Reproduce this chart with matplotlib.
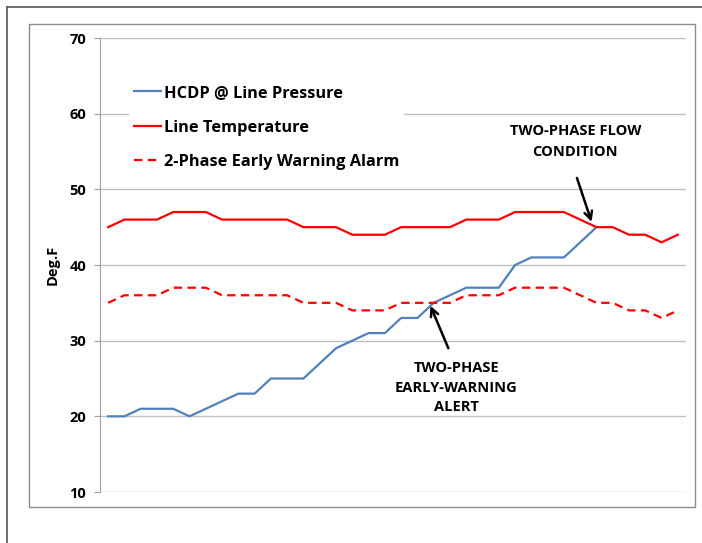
import numpy as np
import matplotlib
matplotlib.use("Agg")
import matplotlib.pyplot as plt
from matplotlib.lines import Line2D
from matplotlib.patches import Rectangle

plt.rcParams['font.family'] = ['Open Sans', 'DejaVu Sans']
plt.rcParams['font.weight'] = 'bold'

# data
hcdp = [20, 20, 21, 21, 21, 20, 21, 22, 23, 23, 25, 25, 25, 27, 29, 30, 31, 31,
        33, 33, 35, 36, 37, 37, 37, 40, 41, 41, 41, 43, 45]
line_temp = [45, 46, 46, 46, 47, 47, 47, 46, 46, 46, 46, 46, 45, 45, 45, 44, 44, 44,
             45, 45, 45, 45, 46, 46, 46, 47, 47, 47, 47, 46, 45, 45, 44, 44, 43, 44]
alarm = [35, 36, 36, 36, 37, 37, 37, 36, 36, 36, 36, 36, 35, 35, 35, 34, 34, 34,
         35, 35, 35, 35, 36, 36, 36, 37, 37, 37, 37, 36, 35, 35, 34, 34, 33, 34]
yticks = [10, 20, 30, 40, 50, 60, 70]

fig = plt.figure(figsize=(7.02, 5.43), dpi=100)

# outer frame lines and chart box
fig.add_artist(Line2D([7/702, 7/702], [0, 1 - 7/543], color='#555555', lw=1.2))
fig.add_artist(Line2D([7/702, 1], [1 - 7/543, 1 - 7/543], color='#555555', lw=1.2))
fig.add_artist(Rectangle((29/702, 1 - 507/543), (695 - 29)/702, (507 - 24)/543,
                         fill=False, edgecolor='#8c8c8c', lw=1.0))

ax = fig.add_axes([100/702, 1 - 492/543, 586/702, 454/543])

x_all = np.arange(len(line_temp))
x_h = np.arange(len(hcdp))

ax.plot(x_h, hcdp, color='#4F81BD', lw=1.6, label='HCDP @ Line Pressure', zorder=3)
ax.plot(x_all, line_temp, color='#FF0000', lw=1.6, label='Line Temperature', zorder=3)
ax.plot(x_all, alarm, color='#FF0000', lw=1.6, ls=(0, (3.8, 2.4)),
        label='2-Phase Early Warning Alarm', zorder=3)

ax.set_xlim(-0.5, len(line_temp) - 0.5)
ax.set_ylim(10, 70)
ax.set_yticks(yticks)
ax.set_xticks([])
ax.grid(axis='y', color='#c0c0c0', lw=1.0)
ax.set_axisbelow(True)
for s in ['top', 'right', 'bottom']:
    ax.spines[s].set_visible(False)
ax.spines['left'].set_color('#a0a0a0')
ax.tick_params(axis='y', colors='#a0a0a0', length=4, labelcolor='black',
               labelsize=10.5, pad=6)
for t in ax.get_yticklabels():
    t.set_fontweight('bold')
ax.set_ylabel('Deg.F', fontsize=10.5, fontweight='bold', labelpad=7)

leg = ax.legend(loc='upper left', bbox_to_anchor=(0.035, 0.925), frameon=True,
                fancybox=False, edgecolor='none', framealpha=1.0,
                prop={'size': 11.8, 'weight': 'bold'}, handlelength=1.65,
                handletextpad=0.2, labelspacing=1.12, borderpad=0.3)

# annotations
ax.text(28.7, 56.3, 'TWO-PHASE FLOW\nCONDITION', ha='center', va='center',
        fontsize=10.5, fontweight='bold', linespacing=1.6)
flow_i = len(hcdp) - 1
ax.annotate('', xy=(flow_i - 0.3, hcdp[flow_i] + 0.7), xytext=(28.8, 51.5),
            arrowprops=dict(arrowstyle='->', color='black', lw=1.8,
                            shrinkA=0, shrinkB=0, mutation_scale=14))

ax.text(21.4, 23.8, 'TWO-PHASE\nEARLY-WARNING\nALERT', ha='center', va='center',
        fontsize=10.5, fontweight='bold', linespacing=1.5)
warn_i = 20
ax.annotate('', xy=(warn_i - 0.2, alarm[warn_i] - 0.4), xytext=(20.9, 29.0),
            arrowprops=dict(arrowstyle='->', color='black', lw=1.8,
                            shrinkA=0, shrinkB=0, mutation_scale=14))

fig.savefig('out.png', dpi=100)
